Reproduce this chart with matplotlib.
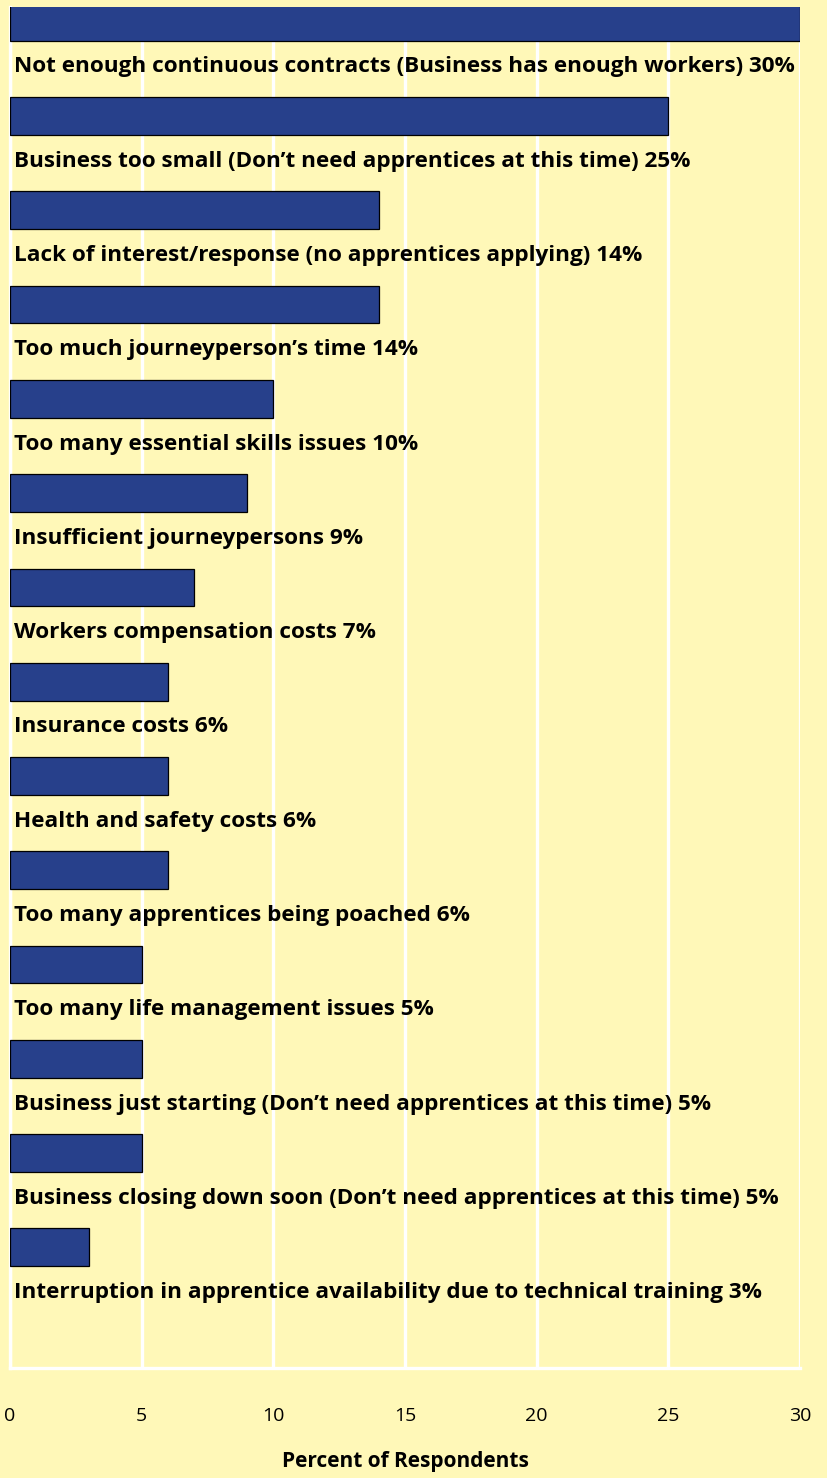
import matplotlib
matplotlib.use("Agg")
import matplotlib.pyplot as plt

# ============================
# Data
# ============================
reasons = [
    "Not enough continuous contracts (Business has enough workers)",
    "Business too small (Don\u2019t need apprentices at this time)",
    "Lack of interest/response (no apprentices applying)",
    "Too much journeyperson\u2019s time",
    "Too many essential skills issues",
    "Insufficient journeypersons",
    "Workers compensation costs",
    "Insurance costs",
    "Health and safety costs",
    "Too many apprentices being poached",
    "Too many life management issues",
    "Business just starting (Don\u2019t need apprentices at this time)",
    "Business closing down soon (Don\u2019t need apprentices at this time)",
    "Interruption in apprentice availability due to technical training",
]
percent = [30, 25, 14, 14, 10, 9, 7, 6, 6, 6, 5, 5, 5, 3]
x_ticks = [0, 5, 10, 15, 20, 25, 30]

bg_color = "#fff8b8"
bar_color = "#27408b"
fonts = ["Open Sans", "DejaVu Sans"]

# ============================
# Figure
# ============================
fig = plt.figure(figsize=(8.28, 14.78), dpi=100, facecolor=bg_color)
ax = fig.add_axes([10 / 828, 110 / 1478, 790 / 828, 1361 / 1478])
ax.set_facecolor(bg_color)

ypos = list(range(len(reasons)))
ax.barh(ypos, percent, height=0.40, color=bar_color, edgecolor="black",
        linewidth=0.9, zorder=3)

# category label + value under each bar
for y, name, val in zip(ypos, reasons, percent):
    ax.text(0.15, y + 0.48, f"{name} {val}%", ha="left", va="center",
            fontsize=16.2, fontweight="bold", family=fonts,
            color="black", zorder=4)

ax.set_xlim(0, 30)
ax.set_ylim(14.28, -0.156)
ax.set_yticks([])
ax.set_xticks(x_ticks)
ax.set_xticklabels([str(t) for t in x_ticks], fontsize=14, family=fonts)
ax.tick_params(axis="x", length=0, pad=28)
ax.grid(True, axis="x", color="white", linewidth=2.4, zorder=1)

for side in ["top", "right"]:
    ax.spines[side].set_visible(False)
for side in ["left", "bottom"]:
    ax.spines[side].set_color("white")
    ax.spines[side].set_linewidth(2.4)
    ax.spines[side].set_zorder(2)

ax.set_xlabel("Percent of Respondents", fontsize=15, fontweight="bold",
              family=fonts, labelpad=19)

fig.savefig("out.png", dpi=100, facecolor=bg_color)
